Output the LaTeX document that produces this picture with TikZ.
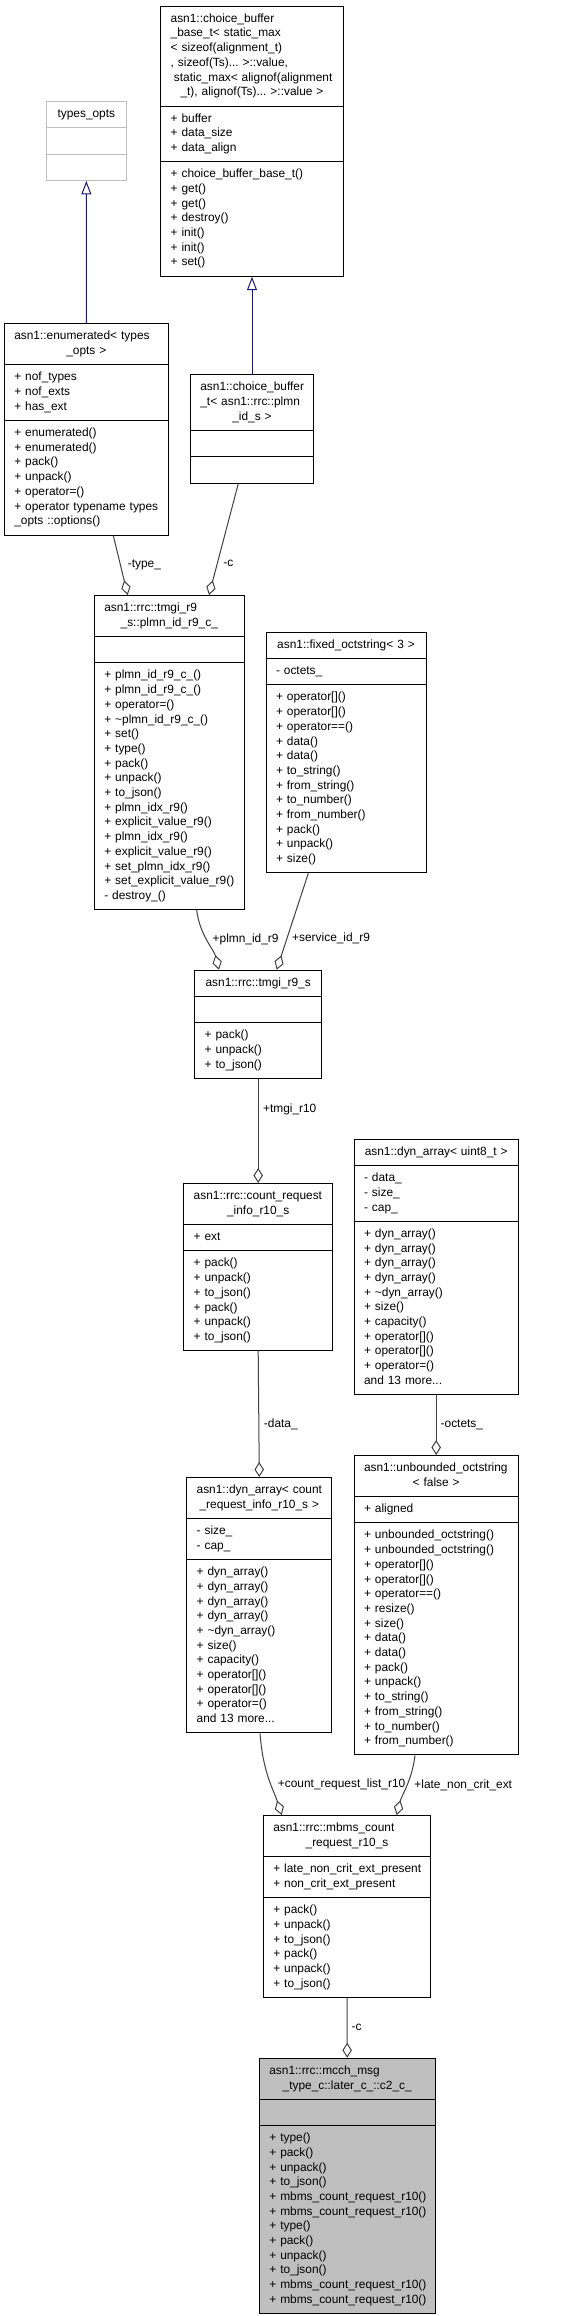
\documentclass[tikz,border=0pt]{standalone}
\usepackage{fontspec}
\newfontfamily\doxyfont{Liberation Sans}
\usepackage{tikz}
\usetikzlibrary{arrows.meta, positioning, shapes.multipart}

\definecolor{edgegray}{HTML}{404040}
\definecolor{inhblue}{HTML}{191970}
\definecolor{extgray}{HTML}{BFBFBF}
\newcommand{\boxfont}{\doxyfont\fontsize{11.9}{14.7}\selectfont\hyphenpenalty=10000 \exhyphenpenalty=10000 }
\newcommand{\cpart}[1]{\noindent\strut#1\strut}
\newcommand{\centred}[1]{\hspace*{\fill}#1\hspace*{\fill}}

\begin{document}
\begin{tikzpicture}[x=1pt, y=-1pt,
    classbox/.style={draw=black, line width=1pt, fill=white, rectangle split, rectangle split parts=3,
        align=left, inner xsep=10pt, inner ysep=5.3pt, anchor=north, font=\boxfont},
    extbox/.style={classbox, draw=extgray},
    mainbox/.style={classbox, fill=extgray},
    usage/.style={draw=edgegray, line width=1pt, -{Diamond[open, length=15pt, width=9.5pt]}},
    inherit/.style={draw=inhblue, line width=1pt, -{Triangle[open, length=13.5pt, width=10pt]}},
    lbl/.style={font=\boxfont, inner sep=0pt, anchor=west}]
    \useasboundingbox (0,0) rectangle (572,2316);
    % Base classes
    \node[extbox, text width=59.3pt] (typesopts) at (86.35,101) {\cpart{\centred{types\_opts}}\nodepart{second}\cpart{}\nodepart{third}\cpart{}};
    \node[classbox, text width=162.7pt] (cbbase) at (252,5.7) {\cpart{asn1::choice\_buffer\\\_base\_t<~static\_max\\<~sizeof(alignment\_t)\\,~sizeof(Ts)...~>::value,\\\hspace*{3.3pt}static\_max<~alignof(alignment\\\centred{\_t),~alignof(Ts)...~>::value~>}}
        \nodepart{second}\cpart{+~buffer\\+~data\_size\\+~data\_align}
        \nodepart{third}\cpart{+~choice\_buffer\_base\_t()\\+~get()\\+~get()\\+~destroy()\\+~init()\\+~init()\\+~set()}};
    \node[classbox, text width=144pt] (enumerated) at (86.3,323.3) {\cpart{asn1::enumerated<~types\\\centred{\_opts~>}}
        \nodepart{second}\cpart{+~nof\_types\\+~nof\_exts\\+~has\_ext}
        \nodepart{third}\cpart{+~enumerated()\\+~enumerated()\\+~pack()\\+~unpack()\\+~operator=()\\+~operator~typename~types\\\_opts~::options()}};
    \node[classbox, text width=103.3pt] (cbuf) at (252,374.3) {\cpart{asn1::choice\_buffer\\\_t<~asn1::rrc::plmn\\\centred{\_id\_s~>}}
        \nodepart{second}\cpart{}\nodepart{third}\cpart{}};
    % Plmn id choice
    \node[classbox, text width=130pt] (plmnid) at (169.3,595) {\cpart{asn1::rrc::tmgi\_r9\\\centred{\_s::plmn\_id\_r9\_c\_}}
        \nodepart{second}\cpart{}
        \nodepart{third}\cpart{+~plmn\_id\_r9\_c\_()\\+~plmn\_id\_r9\_c\_()\\+~operator=()\\+~\textasciitilde plmn\_id\_r9\_c\_()\\+~set()\\+~type()\\+~pack()\\+~unpack()\\+~to\_json()\\+~plmn\_idx\_r9()\\+~explicit\_value\_r9()\\+~plmn\_idx\_r9()\\+~explicit\_value\_r9()\\+~set\_plmn\_idx\_r9()\\+~set\_explicit\_value\_r9()\\-~destroy\_()}};
    \node[classbox, text width=140pt] (fixedoct) at (346,631.7) {\cpart{\centred{asn1::fixed\_octstring<~3~>}}
        \nodepart{second}\cpart{-~octets\_}
        \nodepart{third}\cpart{+~operator[]()\\+~operator[]()\\+~operator==()\\+~data()\\+~data()\\+~to\_string()\\+~from\_string()\\+~to\_number()\\+~from\_number()\\+~pack()\\+~unpack()\\+~size()}};
    % Tmgi and count request
    \node[classbox, text width=107pt] (tmgi) at (258.2,969.7) {\cpart{\centred{asn1::rrc::tmgi\_r9\_s}}
        \nodepart{second}\cpart{}
        \nodepart{third}\cpart{+~pack()\\+~unpack()\\+~to\_json()}};
    \node[classbox, text width=129pt] (countinfo) at (258.2,1183) {\cpart{asn1::rrc::count\_request\\\centred{\_info\_r10\_s}}
        \nodepart{second}\cpart{+~ext}
        \nodepart{third}\cpart{+~pack()\\+~unpack()\\+~to\_json()\\+~pack()\\+~unpack()\\+~to\_json()}};
    \node[classbox, text width=144.3pt] (dynu8) at (436.2,1138.7) {\cpart{\centred{asn1::dyn\_array<~uint8\_t~>}}
        \nodepart{second}\cpart{-~data\_\\-~size\_\\-~cap\_}
        \nodepart{third}\cpart{+~dyn\_array()\\+~dyn\_array()\\+~dyn\_array()\\+~dyn\_array()\\+~\textasciitilde dyn\_array()\\+~size()\\+~capacity()\\+~operator[]()\\+~operator[]()\\+~operator=()\\and~13~more...}};
    % Arrays and octet strings
    \node[classbox, text width=125.3pt] (dyncount) at (259.3,1477) {\cpart{asn1::dyn\_array<~count\\\centred{\_request\_info\_r10\_s~>}}
        \nodepart{second}\cpart{-~size\_\\-~cap\_}
        \nodepart{third}\cpart{+~dyn\_array()\\+~dyn\_array()\\+~dyn\_array()\\+~dyn\_array()\\+~\textasciitilde dyn\_array()\\+~size()\\+~capacity()\\+~operator[]()\\+~operator[]()\\+~operator=()\\and~13~more...}};
    \node[classbox, text width=144.3pt] (unbounded) at (436.2,1455) {\cpart{asn1::unbounded\_octstring\\\centred{<~false~>}}
        \nodepart{second}\cpart{+~aligned}
        \nodepart{third}\cpart{+~unbounded\_octstring()\\+~unbounded\_octstring()\\+~operator[]()\\+~operator[]()\\+~operator==()\\+~resize()\\+~size()\\+~data()\\+~data()\\+~pack()\\+~unpack()\\+~to\_string()\\+~from\_string()\\+~to\_number()\\+~from\_number()}};
    % Message types
    \node[classbox, text width=147.4pt] (mbms) at (347,1815) {\cpart{asn1::rrc::mbms\_count\\\centred{\_request\_r10\_s}}
        \nodepart{second}\cpart{+~late\_non\_crit\_ext\_present\\+~non\_crit\_ext\_present}
        \nodepart{third}\cpart{+~pack()\\+~unpack()\\+~to\_json()\\+~pack()\\+~unpack()\\+~to\_json()}};
    \node[mainbox, text width=155.7pt] (ctwo) at (347.2,2057.7) {\cpart{asn1::rrc::mcch\_msg\\\centred{\_type\_c::later\_c\_::c2\_c\_}}
        \nodepart{second}\cpart{}
        \nodepart{third}\cpart{+~type()\\+~pack()\\+~unpack()\\+~to\_json()\\+~mbms\_count\_request\_r10()\\+~mbms\_count\_request\_r10()\\+~type()\\+~pack()\\+~unpack()\\+~to\_json()\\+~mbms\_count\_request\_r10()\\+~mbms\_count\_request\_r10()}};
    % Inheritance
    \draw[inherit] (enumerated.north) -- (typesopts.south);
    \draw[inherit] (cbuf.north) -- (cbbase.south);
    % Members
    \draw[usage] ([xshift=27pt]enumerated.south) -- ([xshift=-41.6pt]plmnid.north) node[lbl, midway, xshift=6.8pt] {-type\_};
    \draw[usage] ([xshift=-13.7pt]cbuf.south) -- ([xshift=39.7pt]plmnid.north) node[lbl, pos=0.72, xshift=5.6pt] {-c};
    \draw[usage] ([xshift=27.4pt]plmnid.south) .. controls +(3,25) and +(-5,-20) .. ([xshift=-39.2pt]tmgi.north) node[lbl, pos=0.45, xshift=6.5pt] {+plmn\_id\_r9};
    \draw[usage] ([xshift=-37.7pt]fixedoct.south) -- ([xshift=18.5pt]tmgi.north) node[lbl, pos=0.67, xshift=4.6pt] {+service\_id\_r9};
    \draw[usage] (tmgi.south) -- (countinfo.north) node[lbl, pos=0.29, xshift=4.4pt] {+tmgi\_r10};
    \draw[usage] (countinfo.south) -- (dyncount.north) node[lbl, pos=0.58, xshift=4.6pt] {-data\_};
    \draw[usage] (dynu8.south) -- (unbounded.north) node[lbl, pos=0.49, xshift=4pt] {-octets\_};
    \draw[usage] ([xshift=0.7pt]dyncount.south) .. controls +(3,40) and +(-8,-25) .. ([xshift=-65.3pt]mbms.north) node[lbl, pos=0.56, xshift=7pt] {+count\_request\_list\_r10};
    \draw[usage] ([xshift=-21.2pt]unbounded.south) .. controls +(-3,25) and +(5,-20) .. ([xshift=49.7pt]mbms.north) node[lbl, pos=0.47, xshift=6.7pt] {+late\_non\_crit\_ext};
    \draw[usage] (mbms.south) -- (ctwo.north) node[lbl, pos=0.49, xshift=4pt] {-c};
\end{tikzpicture}
\end{document}
